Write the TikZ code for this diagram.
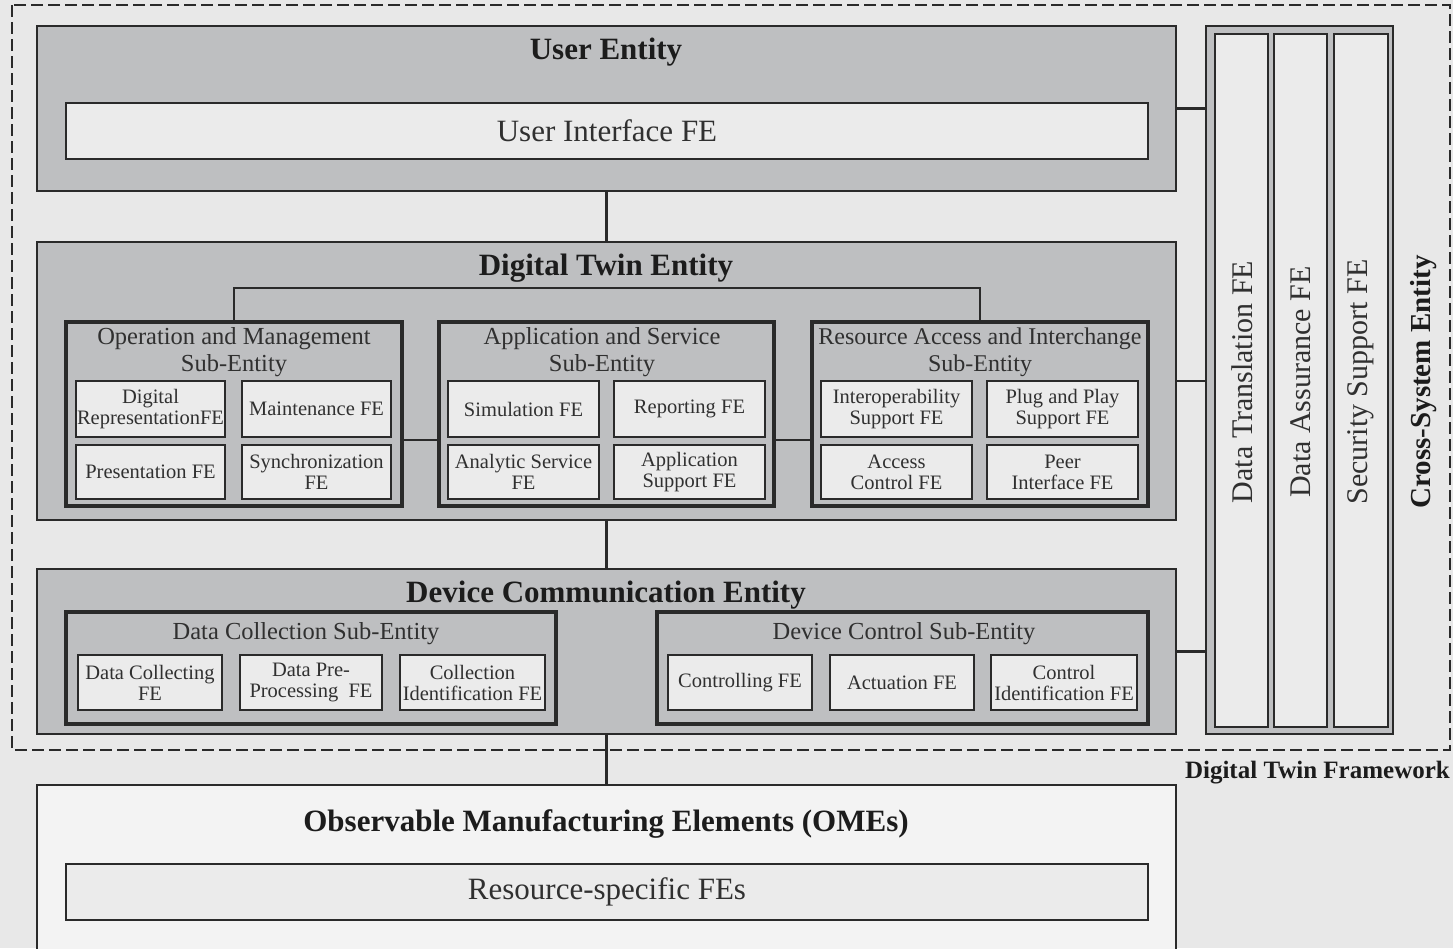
\documentclass[tikz,border=0pt]{standalone}
\usepackage{fontspec}
\setmainfont{Liberation Serif}
\definecolor{bg}{RGB}{232,232,232}
\definecolor{ent}{RGB}{190,191,193}
\definecolor{febg}{RGB}{235,235,235}
\definecolor{omebg}{RGB}{243,243,243}
\definecolor{ln}{RGB}{42,42,42}
\definecolor{tx}{RGB}{48,48,48}
\definecolor{tb}{RGB}{28,28,28}
\newcommand\mybox[7]{\node[#2, minimum width={#5-#3}, minimum height={#6-#4}] (#1) at ({(#3+#5)/2},{(#4+#6)/2}) {#7};}
\tikzset{
  entity/.style={draw=ln, line width=1.5pt, fill=ent, inner sep=0pt},
  omebox/.style={draw=ln, line width=1.5pt, fill=omebg, inner sep=0pt},
  subent/.style={draw=ln, line width=3.4pt, fill=ent, inner sep=0pt},
  bigfe/.style={draw=ln, line width=1.8pt, fill=febg, inner sep=0pt, text=tx, font=\fontsize{31}{34}\selectfont},
  febox/.style={draw=ln, line width=2pt, fill=febg, inner sep=0pt, align=center, text=tx, font=\fontsize{20.5}{21}\selectfont},
  colbox/.style={draw=ln, line width=1.8pt, fill=febg, inner sep=0pt},
  coltext/.style={rotate=90, inner sep=0pt, text=tx, font=\fontsize{30}{32}\selectfont},
  enttitle/.style={inner sep=0pt, text=tb, font=\bfseries\fontsize{31}{34}\selectfont},
  subtitle/.style={inner sep=0pt, align=center, text=tx, font=\fontsize{24.5}{27}\selectfont},
  conn/.style={draw=ln, line width=2.5pt},
}
\begin{document}
\begin{tikzpicture}[x=1pt,y=-1pt]
\useasboundingbox (0,0) rectangle (1453,948);
\clip (0,0) rectangle (1453,948);
\fill[bg] (0,0) rectangle (1453,948);
% framework frame
\draw[ln, line width=1.5pt, dash pattern=on 12pt off 5pt] (12,5) rectangle (1450,750);
\node[anchor=east, inner sep=0pt, text=tb, font=\bfseries\fontsize{25}{27}\selectfont] (dtf) at (1450,773) {Digital Twin Framework};

% main entities
\mybox{ue}{entity}{37}{26}{1176}{191}{}
\mybox{dt}{entity}{37}{242}{1176}{520}{}
\mybox{dce}{entity}{37}{569}{1176}{734}{}
\mybox{ome}{omebox}{37}{785}{1176}{970}{}
\mybox{cs}{entity}{1206}{26}{1393}{734}{}

\node[enttitle] (ue-t) at (606,52) {User Entity};
\node[enttitle] (dt-t) at (606,268) {Digital Twin Entity};
\node[enttitle] (dce-t) at (606,595) {Device Communication Entity};
\node[enttitle] (ome-t) at (606,824) {Observable Manufacturing Elements (OMEs)};

\mybox{uif}{bigfe}{66}{103}{1148}{159}{User Interface FE}
\mybox{rsf}{bigfe}{66}{864}{1148}{920}{Resource-specific FEs}

% connectors between entities
\draw[conn] (ue.south) -- (dt.north);
\draw[conn] (dt.south) -- (dce.north);
\draw[conn] (dce.south) -- (ome.north);
\draw[conn] (ue.east) -- (cs.west |- ue.east);
\draw[conn] (dt.east) -- (cs.west |- dt.east);
\draw[conn] (dce.east) -- (cs.west |- dce.east);

% digital twin sub-entities
\mybox{om}{subent}{66}{322}{402}{506}{}
\mybox{as}{subent}{439}{322}{774}{506}{}
\mybox{ra}{subent}{812}{322}{1148}{506}{}
\coordinate (tj) at (606,288);
\draw[conn] (om.north) |- (tj) -| (ra.north);
\draw[conn] ([yshift=-26pt]om.east) -- ([yshift=-26pt]as.west);
\draw[conn] ([yshift=-26pt]as.east) -- ([yshift=-26pt]ra.west);

\node[subtitle] (om-t) at (234,352) {Operation and Management\\Sub-Entity};
\node[subtitle] (as-t) at (602,352) {Application and Service\\Sub-Entity};
\node[subtitle, font=\fontsize{24}{27}\selectfont] (ra-t) at (980,352) {Resource Access and Interchange\\Sub-Entity};

\mybox{om1}{febox}{76}{381}{225}{437}{Digital\\RepresentationFE}
\mybox{om2}{febox}{242}{381}{391}{437}{Maintenance FE}
\mybox{om3}{febox}{76}{445}{225}{499}{Presentation FE}
\mybox{om4}{febox}{242}{445}{391}{499}{Synchronization\\FE}

\mybox{as1}{febox}{448}{381}{599}{437}{Simulation FE}
\mybox{as2}{febox}{614}{381}{765}{437}{Reporting FE}
\mybox{as3}{febox}{448}{445}{599}{499}{Analytic Service\\FE}
\mybox{as4}{febox}{614}{445}{765}{499}{Application\\Support FE}

\mybox{ra1}{febox}{821}{381}{972}{437}{Interoperability\\Support FE}
\mybox{ra2}{febox}{987}{381}{1138}{437}{Plug and Play\\Support FE}
\mybox{ra3}{febox}{821}{445}{972}{499}{Access\\Control FE}
\mybox{ra4}{febox}{987}{445}{1138}{499}{Peer\\Interface FE}

% device communication sub-entities
\mybox{dc}{subent}{66}{612}{556}{724}{}
\mybox{dv}{subent}{657}{612}{1148}{724}{}
\node[subtitle] (dc-t) at (306,634) {Data Collection Sub-Entity};
\node[subtitle] (dv-t) at (904,634) {Device Control Sub-Entity};

\mybox{dc1}{febox}{78}{655}{222}{710}{Data Collecting\\FE}
\mybox{dc2}{febox}{240}{655}{382}{710}{Data Pre-\\Processing~~FE}
\mybox{dc3}{febox}{400}{655}{545}{710}{Collection\\Identification FE}

\mybox{dv1}{febox}{668}{655}{812}{710}{Controlling FE}
\mybox{dv2}{febox}{830}{655}{974}{710}{Actuation FE}
\mybox{dv3}{febox}{991}{655}{1137}{710}{Control\\Identification FE}

% cross-system entity
\mybox{c1}{colbox}{1215}{34}{1268}{727}{}
\mybox{c2}{colbox}{1274}{34}{1327}{727}{}
\mybox{c3}{colbox}{1334}{34}{1388}{727}{}
\node[coltext] (c1-t) at (1242,382) {Data Translation FE};
\node[coltext] (c2-t) at (1301,382) {Data Assurance FE};
\node[coltext] (c3-t) at (1361,382) {Security Support FE};
\node[rotate=90, inner sep=0pt, text=tb, font=\bfseries\fontsize{29}{32}\selectfont] (cs-t) at (1424,382) {Cross-System Entity};
\end{tikzpicture}
\end{document}
